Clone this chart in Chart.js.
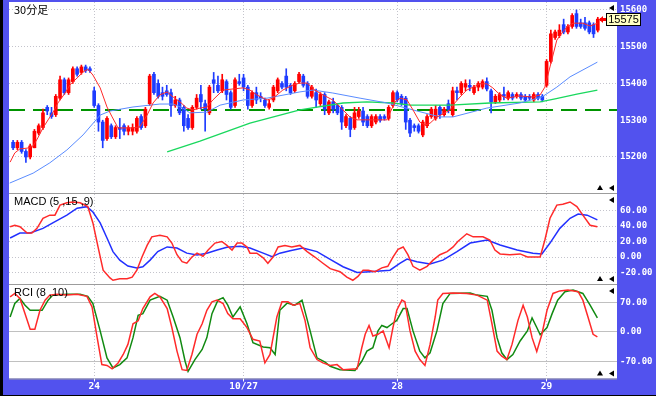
<!DOCTYPE html>
<html>
<head>
<meta charset="utf-8">
<script src="https://cdn.jsdelivr.net/npm/chart.js@4.4.1/dist/chart.umd.min.js"></script>
<style>
  html, body { margin: 0; padding: 0; background: #fff; }
  #frame { position: relative; width: 656px; height: 396px; background: #5252ee; overflow: hidden; }
  #frame canvas { position: absolute; left: 0; }
  #edge { position: absolute; left: 0; top: 0; width: 3px; height: 396px; background: #000; }
  #base { position: absolute; left: 0; top: 395px; width: 656px; height: 1px; background: #000; }
</style>
</head>
<body>
<div id="frame">
  <canvas id="priceChart" width="656" height="194" style="top:0"></canvas>
  <canvas id="macdChart" width="656" height="91" style="top:194px"></canvas>
  <canvas id="rciChart" width="656" height="111" style="top:285px"></canvas>
  <div id="edge"></div>
  <div id="base"></div>
</div>
<script>
// x axis: one slot per 30-minute bar, day boundaries
const dayTicks = [19, 54, 90, 125];
const dayLabels = ['24', '10/27', '28', '29'];

const priceTicks = [15200, 15300, 15400, 15500, 15600];
const macdTicks = [-20, 0, 20, 40, 60];
const rciTicks = [-70, 0, 70];
const refLevel = 15328;

// candles (30分足)
const open = [15240,15225,15240,15215,15200,15225,15265,15280,15335,15320,15315,15360,15410,15375,15405,15440,15430,15445,15440,15380,
  15340,15295,15250,15285,15255,15280,15285,15270,15270,15270,15310,15285,15345,15425,15400,15375,15380,15375,15340,15355,
  15335,15305,15280,15335,15370,15345,15320,15410,15395,15380,15405,15375,15340,15405,15415,15390,15340,15375,15365,15355,
  15335,15355,15380,15400,15420,15395,15380,15405,15420,15400,15365,15375,15345,15370,15320,15350,15340,15335,15285,15305,
  15280,15310,15325,15310,15285,15295,15310,15310,15305,15340,15375,15365,15360,15300,15285,15285,15260,15285,15310,15305,
  15335,15315,15345,15315,15380,15375,15390,15395,15375,15390,15390,15405,15380,15350,15355,15370,15360,15370,15365,15370,
  15365,15365,15355,15370,15365,15395,15460,15525,15530,15560,15540,15555,15590,15565,15565,15565,15560,15545];
const high = [15245,15245,15245,15220,15235,15275,15290,15330,15340,15335,15370,15420,15415,15415,15445,15445,15450,15450,15445,15390,
  15345,15300,15310,15290,15285,15305,15290,15285,15290,15310,15315,15335,15425,15430,15410,15390,15395,15385,15365,15360,
  15340,15315,15340,15370,15395,15355,15395,15430,15420,15425,15410,15380,15415,15425,15425,15395,15380,15390,15375,15360,
  15355,15395,15415,15405,15440,15400,15405,15430,15425,15405,15395,15385,15375,15375,15355,15360,15345,15340,15315,15310,
  15335,15335,15335,15315,15315,15315,15315,15315,15340,15380,15380,15370,15365,15305,15290,15290,15300,15315,15335,15340,
  15340,15335,15355,15390,15390,15405,15410,15410,15395,15405,15410,15415,15385,15370,15375,15390,15380,15375,15375,15375,
  15370,15370,15375,15375,15370,15465,15545,15545,15560,15575,15560,15590,15600,15575,15580,15570,15565,15580];
const low = [15220,15220,15210,15185,15195,15225,15260,15275,15315,15305,15310,15355,15370,15370,15400,15420,15425,15430,15430,15335,
  15270,15225,15245,15250,15250,15250,15260,15260,15260,15265,15275,15280,15340,15370,15360,15355,15365,15310,15335,15315,
  15270,15275,15275,15330,15330,15270,15315,15375,15375,15375,15355,15330,15335,15395,15380,15330,15335,15345,15350,15335,
  15330,15350,15375,15385,15380,15370,15375,15400,15390,15360,15360,15335,15340,15315,15315,15320,15315,15275,15280,15255,
  15275,15305,15285,15280,15280,15290,15295,15300,15300,15335,15350,15340,15275,15255,15270,15265,15255,15280,15305,15300,
  15305,15310,15320,15310,15355,15370,15380,15380,15370,15380,15385,15380,15320,15345,15350,15355,15355,15355,15360,15355,
  15350,15355,15350,15355,15350,15390,15455,15520,15525,15535,15535,15550,15550,15550,15545,15535,15525,15540];
const close = [15225,15240,15215,15200,15230,15270,15285,15320,15325,15310,15365,15410,15375,15410,15440,15425,15445,15435,15435,15340,
  15295,15245,15305,15255,15280,15275,15270,15280,15280,15305,15280,15330,15420,15375,15365,15365,15370,15340,15355,15320,
  15285,15280,15335,15360,15350,15330,15390,15400,15380,15410,15370,15335,15410,15400,15390,15340,15375,15355,15360,15340,
  15345,15390,15410,15390,15390,15375,15400,15425,15395,15365,15390,15355,15370,15330,15350,15330,15320,15295,15310,15275,
  15320,15325,15295,15285,15310,15310,15300,15305,15335,15375,15355,15345,15295,15265,15280,15270,15295,15310,15330,15330,
  15315,15330,15330,15380,15375,15400,15400,15390,15390,15400,15405,15385,15350,15365,15370,15365,15375,15360,15370,15360,
  15355,15360,15370,15360,15355,15460,15535,15540,15545,15540,15555,15585,15555,15555,15550,15540,15535,15575];

// moving averages: [bar, price]
const maFast = [[-0.7,15186],[0.4,15211],[1.6,15222],[3.3,15224],[4.7,15230],[5.8,15252],[7.0,15279],[8.2,15301],[9.3,15320],[10.5,15347],
  [12.2,15374],[13.3,15396],[15.0,15415],[16.4,15431],[17.5,15439],[18.7,15423],[20.4,15388],[22.0,15336],[23.2,15309],[24.6,15279],
  [28.1,15279],[29.7,15282],[31.4,15314],[32.8,15347],[34.4,15369],[36.1,15377],[37.5,15363],[39.1,15350],[40.7,15333],[42.1,15328],
  [43.8,15333],[45.4,15336],[46.8,15355],[49.2,15382],[51.5,15385],[53.9,15388],[55.5,15382],[57.1,15369],[59.5,15355],[60.9,15360],
  [63.2,15382],[65.6,15396],[67.2,15401],[68.9,15401],[70.7,15382],[72.6,15369],[74.9,15355],[77.3,15328],[78.9,15309],[80.6,15301],
  [82.9,15301],[87.6,15301],[88.3,15320],[89.5,15350],[90.7,15360],[92.3,15355],[93.7,15328],[95.3,15295],[96.5,15287],[97.7,15292],
  [99.3,15309],[100.7,15317],[102.4,15328],[103.5,15347],[104.7,15363],[106.3,15382],[107.8,15390],[109.4,15399],[111.0,15399],[112.4,15388],
  [114.1,15369],[115.7,15360],[117.1,15363],[118.8,15366],[121.8,15363],[123.5,15369],[124.6,15390],[125.8,15445],[127.4,15518],[128.6,15537],
  [129.8,15554],[131.2,15564],[133.5,15564],[135.2,15556],[136.9,15564]];
const maMid = [[-0.8,15129],[4.7,15156],[8.6,15184],[12.6,15219],[16.4,15260],[20.4,15314],[22.7,15325],[28.1,15336],[34.4,15344],[37.5,15344],
  [39.8,15333],[41.4,15320],[45.4,15322],[48.5,15341],[53.9,15355],[59.5,15360],[67.2,15377],[70.3,15382],[74.9,15374],[81.3,15360],
  [87.6,15347],[93.7,15328],[100.0,15309],[103.1,15309],[111.0,15333],[118.8,15347],[123.9,15363],[127.4,15390],[130.5,15418],[136.9,15458]];
const maSlow = [[36.1,15214],[43.8,15243],[55.5,15292],[67.2,15328],[77.3,15347],[82.9,15350],[89.0,15347],[93.0,15341],[102.4,15341],
  [111.7,15347],[123.5,15350],[127.0,15358],[132.1,15371],[136.9,15382]];

// MACD (5 ,15 ,9)
const macdLine = [[-0.7,39],[0.4,41],[1.6,39],[3.3,31],[4.4,31],[5.6,37],[7.0,50],[8.6,54],[9.8,54],[11.0,67],[12.6,70],[14.0,71],[15.7,70],
  [17.5,65],[18.7,44],[19.9,13],[21.1,-17],[22.7,-27],[23.4,-30],[25.0,-28],[26.7,-28],[27.9,-26],[29.0,-17],[30.2,0],[31.4,15],[32.5,26],
  [34.4,28],[36.1,26],[37.2,18],[38.4,3],[39.6,-6],[40.7,-8],[41.9,0],[43.1,5],[44.5,1],[45.7,9],[47.3,18],[48.9,20],[50.1,15],[51.3,9],
  [52.5,18],[53.6,18],[54.8,13],[55.5,5],[57.1,5],[58.6,-1],[59.7,-8],[60.9,0],[62.1,13],[63.7,15],[65.3,13],[67.2,15],[68.9,7],[70.7,0],
  [72.6,-8],[74.3,-15],[76.6,-19],[78.2,-26],[79.6,-30],[80.8,-25],[82.0,-17],[83.2,-17],[84.8,-19],[86.4,-14],[87.8,-12],[89.0,0],[90.2,10],
  [91.4,13],[92.5,3],[93.7,-12],[95.3,-17],[97.0,-12],[98.4,-4],[100.0,3],[101.7,7],[103.1,13],[104.2,20],[106.3,30],[107.8,26],[110.1,26],
  [111.7,22],[112.9,9],[114.1,4],[116.4,3],[118.8,4],[120.5,0],[123.5,0],[124.6,22],[125.8,50],[127.4,67],[128.8,68],[130.5,71],[132.1,65],
  [133.5,54],[135.2,41],[136.9,39]];
const signalLine = [[-0.7,24.5],[1.6,31],[4.0,31],[7.0,37],[9.3,44],[12.6,54],[15.0,63],[17.3,65],[18.7,58],[20.4,44],[22.0,24.5],[23.4,7],
  [25.0,-4],[26.9,-11.6],[29.0,-14],[30.4,-12.5],[32.1,-4],[33.9,7],[36.1,13],[38.4,11.6],[40.7,5],[43.1,2.6],[45.4,5],[47.8,9],[50.1,12.5],
  [53.2,14],[55.5,11.6],[58.6,5],[60.7,0.4],[62.5,5],[64.9,8],[67.9,11.6],[71.2,7],[74.3,-3],[77.3,-12.5],[80.6,-20],[83.6,-19],[88.3,-17],
  [90.7,-8],[92.3,-2.6],[94.6,-6],[97.7,-9],[100.7,-4],[104.0,7],[107.1,18],[111.1,22],[114.1,15.5],[118.1,9],[121.8,5],[123.9,3.9],
  [125.8,18],[128.1,37],[130.5,50],[132.4,55.5],[134.5,54],[136.9,48]];

// RCI (8 ,10)
const rciShort = [[-0.7,83],[0.4,91],[1.6,79],[2.8,43],[4.0,6],[5.1,6],[6.3,51],[7.5,75],[8.6,87],[10.3,89],[12.6,87],[15.0,89],[17.3,84],
  [18.5,59],[19.7,-14],[20.8,-78],[22.0,-80],[23.2,-88],[24.6,-74],[25.8,-54],[26.9,-30],[28.1,19],[29.3,26],[30.4,55],[32.1,83],[33.2,91],
  [34.4,83],[36.1,55],[37.2,10],[38.4,-46],[39.6,-90],[40.7,-92],[41.9,-54],[43.1,-6],[44.3,19],[45.4,51],[46.6,71],[47.8,75],[49.2,67],
  [50.3,43],[51.5,31],[53.2,31],[54.8,10],[56.2,-18],[57.8,-22],[59.0,-74],[60.2,-54],[61.8,35],[63.0,71],[64.4,71],[65.6,63],[67.2,67],
  [68.4,27],[69.6,-38],[71.2,-66],[72.6,-74],[74.3,-80],[75.9,-78],[77.3,-90],[80.6,-88],[81.7,-38],[82.5,-6],[83.4,15],[84.3,-10],
  [85.5,-6],[86.7,2],[88.1,-38],[89.0,10],[89.9,51],[91.1,75],[91.8,71],[93.0,2],[94.2,-46],[95.3,-66],[96.5,-80],[97.7,-30],[98.9,35],
  [99.5,75],[100.7,91],[103.1,92],[106.3,91],[108.7,87],[111.1,75],[112.2,19],[113.4,-46],[114.5,-58],[115.7,-66],[116.9,-30],[118.3,27],
  [119.5,63],[120.5,35],[121.6,-14],[122.7,-47],[123.9,-6],[125.1,51],[126.5,91],[128.1,97],[130.0,99],[132.4,95],[133.5,75],[134.7,35],
  [135.9,-6],[136.9,-12]];
const rciLong = [[-0.7,35],[0.4,67],[1.6,79],[2.8,63],[4.0,51],[6.8,51],[8.2,75],[9.3,87],[12.6,89],[15.7,89],[17.5,84],[18.7,67],[20.4,2],
  [22.0,-62],[23.4,-86],[25.0,-78],[26.7,-62],[28.1,-14],[29.3,39],[30.4,43],[32.1,75],[34.4,84],[36.1,75],[37.5,35],[39.1,-14],[40.3,-70],
  [41.0,-94],[42.6,-66],[44.3,-42],[45.4,-14],[46.6,43],[48.0,75],[49.2,81],[50.3,63],[51.5,35],[53.2,59],[54.8,19],[56.2,-26],[58.6,-36],
  [60.2,-38],[61.4,-54],[62.5,51],[64.2,68],[66.0,63],[67.7,75],[69.6,2],[71.2,-62],[73.1,-72],[74.3,-82],[76.6,-90],[80.1,-92],[81.7,-70],
  [82.9,-46],[84.3,-38],[85.5,2],[86.4,15],[87.6,10],[88.8,19],[89.9,27],[91.4,55],[92.3,55],[93.7,2],[95.3,-46],[96.5,-62],[97.7,-50],
  [99.3,2],[100.7,67],[102.4,91],[107.1,92],[108.7,87],[111.1,84],[112.2,51],[113.4,-14],[114.5,-50],[115.7,-66],[117.1,-54],[118.8,-22],
  [120.5,2],[121.6,33],[122.7,10],[123.5,-7],[125.1,10],[126.3,43],[127.6,75],[129.3,95],[131.2,99],[133.5,91],[135.2,63],[136.9,33]];

const UP = '#ff0000';
const DOWN = '#1e3cff';
const dotColor = '#c4c4cc';
const axisFont = { family: 'DejaVu Sans Mono', size: 9, weight: 'bold' };

const toPoints = (pairs) => pairs.map(([x, y]) => ({ x, y }));
const candleColor = (ctx) => close[ctx.dataIndex] >= open[ctx.dataIndex] ? UP : DOWN;

function lineSet(pairs, color, width) {
  return {
    type: 'line',
    data: toPoints(pairs),
    borderColor: color,
    borderWidth: width,
    pointRadius: 0,
    tension: 0,
    fill: false,
    order: 0
  };
}

function timeAxis(showLabels) {
  return {
    type: 'linear',
    min: -0.96,
    max: 141.5,
    offset: false,
    afterBuildTicks: (scale) => { scale.ticks = dayTicks.map(v => ({ value: v })); },
    afterFit: (scale) => { scale.paddingLeft = 0; scale.paddingRight = 0; },
    grid: {
      offset: false,
      color: dotColor,
      drawTicks: showLabels,
      tickLength: 3,
      tickColor: '#ffffff',
      tickBorderDash: []
    },
    border: { display: false, dash: [1, 2] },
    ticks: {
      display: showLabels,
      autoSkip: false,
      maxRotation: 0,
      padding: 0,
      color: '#ffffff',
      font: { family: 'DejaVu Sans Mono', size: 9.5, weight: 'bold', lineHeight: 1 },
      callback: (value) => dayLabels[dayTicks.indexOf(value)]
    }
  };
}

function valueAxis(min, max, tickValues, fmt, lineColor, dash, hidden) {
  return {
    type: 'linear',
    position: 'right',
    min: min,
    max: max,
    afterBuildTicks: (scale) => { scale.ticks = tickValues.map(v => ({ value: v })); },
    afterFit: (scale) => { scale.width = 39; scale.paddingTop = 0; scale.paddingBottom = 0; },
    grid: {
      drawTicks: false,
      color: (ctx) => (hidden && ctx.tick && hidden.includes(ctx.tick.value)) ? 'rgba(0,0,0,0)' : lineColor
    },
    border: { display: false, dash: dash },
    ticks: { color: '#ffffff', padding: 3, font: axisFont, callback: fmt }
  };
}

const panelBack = {
  id: 'panelBack',
  beforeDraw(chart) {
    const { ctx, chartArea: a } = chart;
    ctx.save();
    ctx.fillStyle = '#ffffff';
    ctx.fillRect(a.left, a.top, a.right - a.left, a.bottom - a.top);
    ctx.fillStyle = '#9c9c9c';
    ctx.fillRect(a.left, a.bottom, a.right - a.left, 1);
    ctx.restore();
  }
};

function panelTitle(text, family) {
  return {
    id: 'panelTitle',
    afterDatasetsDraw(chart) {
      const { ctx, chartArea: a } = chart;
      ctx.save();
      ctx.fillStyle = '#000000';
      ctx.font = '11px ' + family;
      ctx.textBaseline = 'top';
      ctx.fillText(text, a.left + 5, a.top + 2);
      ctx.restore();
    }
  };
}

function triangle(ctx, x, y, dir) {
  ctx.beginPath();
  if (dir === 'left') {
    ctx.moveTo(x - 3, y); ctx.lineTo(x + 2, y - 3); ctx.lineTo(x + 2, y + 3);
  } else {
    ctx.moveTo(x, y - 3); ctx.lineTo(x - 3, y + 2); ctx.lineTo(x + 3, y + 2);
  }
  ctx.closePath();
  ctx.fill();
}

const markers = {
  id: 'markers',
  afterDraw(chart) {
    const { ctx, chartArea: a } = chart;
    ctx.save();
    ctx.fillStyle = '#000000';
    triangle(ctx, a.right - 5, a.top + 6, 'left');
    triangle(ctx, a.right - 5, a.bottom - 5, 'left');
    triangle(ctx, a.right - 17, a.bottom - 5, 'up');
    ctx.restore();
  }
};

const refLine = {
  id: 'refLine',
  beforeDatasetsDraw(chart) {
    const { ctx, chartArea: a } = chart;
    const y = Math.round(chart.scales.y.getPixelForValue(refLevel));
    ctx.save();
    ctx.strokeStyle = '#009400';
    ctx.lineWidth = 2;
    ctx.setLineDash([16, 8]);
    ctx.beginPath();
    ctx.moveTo(a.left, y);
    ctx.lineTo(a.right, y);
    ctx.stroke();
    ctx.restore();
  }
};

const lastPrice = {
  id: 'lastPrice',
  afterDraw(chart) {
    const { ctx } = chart;
    const n = close.length - 1;
    const x = Math.round(chart.scales.x.getPixelForValue(n));
    const y = Math.round(chart.scales.y.getPixelForValue(close[n]));
    ctx.save();
    ctx.fillStyle = '#ff0000';
    ctx.fillRect(x + 2, y - 1, 7, 3);
    ctx.beginPath();
    ctx.moveTo(x + 1, y + 0.5); ctx.lineTo(x + 5, y - 3); ctx.lineTo(x + 5, y + 4);
    ctx.closePath();
    ctx.fill();
    const bx = x + 8, bw = 35, bh = 13;
    ctx.fillStyle = '#ffffc4';
    ctx.fillRect(bx, y - 6, bw, bh);
    ctx.strokeStyle = '#000000';
    ctx.lineWidth = 1;
    ctx.strokeRect(bx + 0.5, y - 5.5, bw - 1, bh - 1);
    ctx.fillStyle = '#000000';
    ctx.font = '11px Liberation Sans';
    ctx.textAlign = 'center';
    ctx.textBaseline = 'middle';
    ctx.fillText(String(close[n]), bx + bw / 2, y + 1);
    ctx.restore();
  }
};

const common = {
  responsive: false,
  animation: false,
  devicePixelRatio: 1,
  events: [],
  plugins: { legend: { display: false }, tooltip: { enabled: false } }
};

new Chart(document.getElementById('priceChart'), {
  type: 'bar',
  data: {
    datasets: [
      lineSet(maFast, '#ff2a2a', 1),
      lineSet(maMid, '#5a8cff', 1),
      lineSet(maSlow, '#1ad85e', 1.4),
      {
        type: 'bar',
        data: close.map((c, i) => ({ x: i, y: [open[i], c] })),
        backgroundColor: candleColor,
        barThickness: 3,
        minBarLength: 1,
        grouped: false,
        order: 1
      },
      {
        type: 'bar',
        data: close.map((c, i) => ({ x: i, y: [low[i], high[i]] })),
        backgroundColor: candleColor,
        barThickness: 1,
        grouped: false,
        order: 2
      }
    ]
  },
  options: Object.assign({}, common, {
    layout: { padding: { left: 9, right: 0, top: 2, bottom: 1 } },
    scales: {
      x: timeAxis(false),
      y: valueAxis(15102, 15621.6, priceTicks, (v) => String(v), dotColor, [1, 2], [15300])
    }
  }),
  plugins: [panelBack, refLine, panelTitle('30分足', '"Noto Sans CJK JP"'), markers, lastPrice]
});

new Chart(document.getElementById('macdChart'), {
  type: 'line',
  data: {
    datasets: [
      lineSet(macdLine, '#ff2a2a', 1.5),
      lineSet(signalLine, '#2230ff', 1.5)
    ]
  },
  options: Object.assign({}, common, {
    layout: { padding: { left: 9, right: 0, top: 0, bottom: 1 } },
    scales: {
      x: timeAxis(false),
      y: valueAxis(-34.8, 81.3, macdTicks, (v) => v.toFixed(2), dotColor, [1, 2])
    }
  }),
  plugins: [panelBack, panelTitle('MACD (5 ,15 ,9)', '"Liberation Sans"'), markers]
});

new Chart(document.getElementById('rciChart'), {
  type: 'line',
  data: {
    datasets: [
      lineSet(rciShort, '#ff2a2a', 1.5),
      lineSet(rciLong, '#118a11', 1.5)
    ]
  },
  options: Object.assign({}, common, {
    layout: { padding: { left: 9, right: 0, top: 0, bottom: 5 } },
    scales: {
      x: timeAxis(true),
      y: valueAxis(-111, 111, rciTicks, (v) => v.toFixed(2), '#c0c0c0', [])
    }
  }),
  plugins: [panelBack, panelTitle('RCI (8 ,10)', '"Liberation Sans"'), markers]
});
</script>
</body>
</html>
